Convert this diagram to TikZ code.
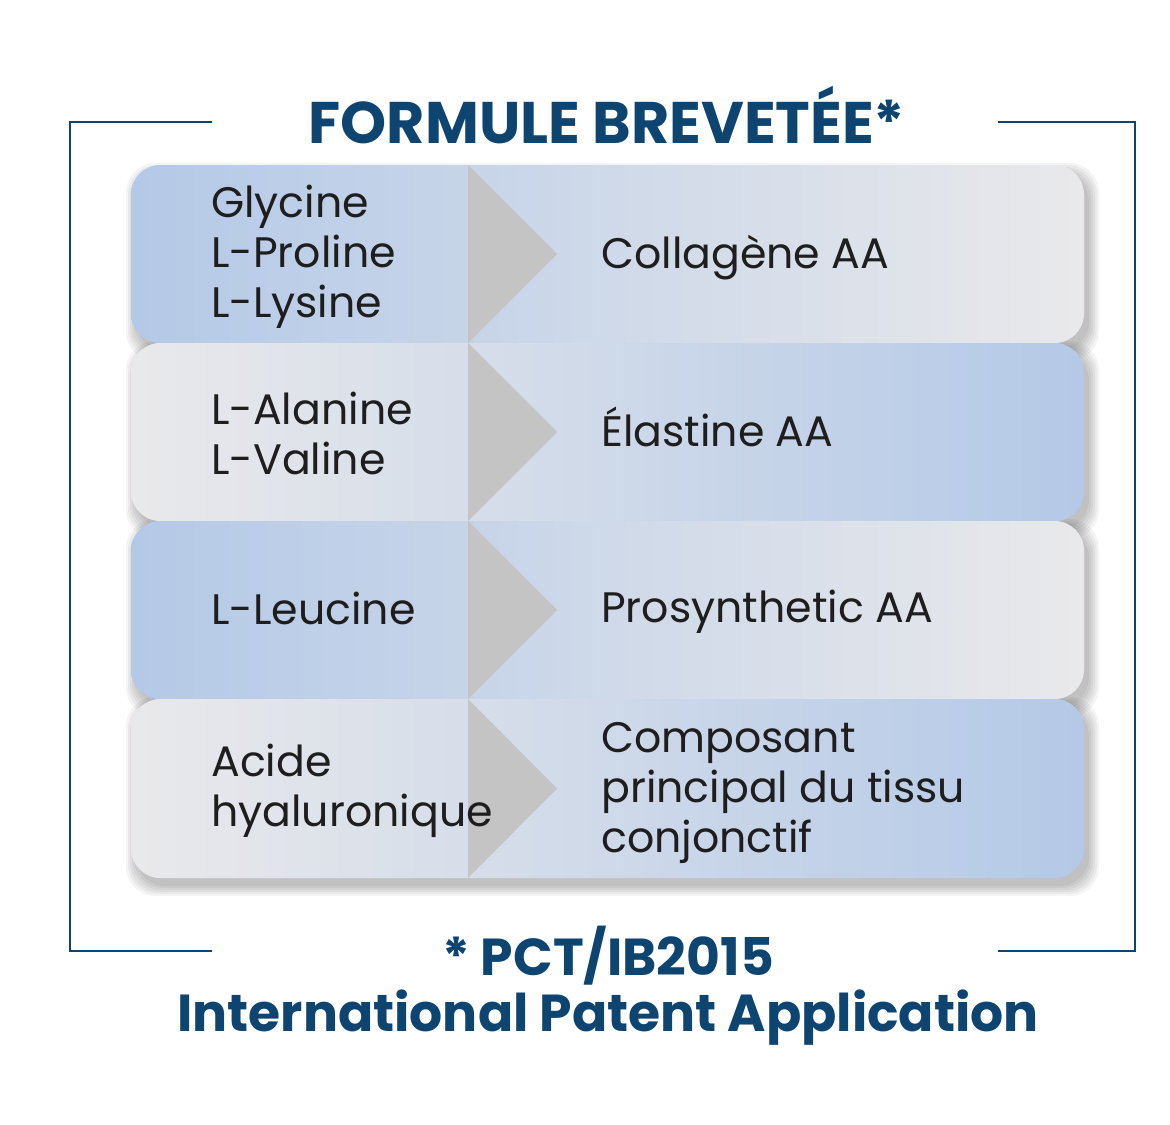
\documentclass[tikz,border=0pt]{standalone}
\usepackage{fontspec}
\setmainfont{Poppins}
\newfontfamily\titlefont{Poppins}
\definecolor{navy}{HTML}{0E4470}
\definecolor{cblue}{HTML}{B4C9E7}
\definecolor{cgray}{HTML}{E9E9EB}
\definecolor{tri}{HTML}{C4C4C4}
\definecolor{ink}{HTML}{1E1E1E}
\begin{document}
\begin{tikzpicture}[x=0.75pt,y=-0.75pt,
  bracket/.style={navy,line width=1.6pt},
  rowbox/.style={rounded corners=22pt},
  shadowbox/.style={rounded corners=22pt,fill=black,opacity=0.045},
  arrowtri/.style={fill=tri},
  celltext/.style={anchor=west,inner sep=0pt,align=left,text=ink,font=\fontsize{32}{37.5}\selectfont},
  titletext/.style={inner sep=0pt,text=navy,font=\titlefont\bfseries\fontsize{44}{48}\selectfont},
  foottext/.style={inner sep=0pt,text=navy,align=center,font=\titlefont\bfseries\fontsize{39}{43}\selectfont}]
\useasboundingbox (0,0) rectangle (1170,1124);
\fill[white] (0,0) rectangle (1170,1124);
% bracket frame
\coordinate (tl) at (70,122); \coordinate (tla) at (212,122);
\coordinate (tr) at (1135,122); \coordinate (tra) at (998,122);
\coordinate (bl) at (70,951); \coordinate (bla) at (212,951);
\coordinate (br) at (1135,951); \coordinate (bra) at (998,951);
\draw[bracket] (tla) -- (tl) -- (bl) -- (bla);
\draw[bracket] (tra) -- (tr) -- (br) -- (bra);
% shadows
\foreach \t/\b in {165/343,343/521,521/699,699/878}{
  \foreach \e in {0,2,4,6,8,10}{
    \fill[shadowbox] (131+5-\e,\t+8-\e) rectangle (1084+5+\e,\b+8+\e);
  }
}
% rows
\shade[rowbox,left color=cblue,right color=cgray] (131,165) rectangle (1084,343);
\shade[rowbox,left color=cgray,right color=cblue] (131,343) rectangle (1084,521);
\shade[rowbox,left color=cblue,right color=cgray] (131,521) rectangle (1084,699);
\shade[rowbox,left color=cgray,right color=cblue] (131,699) rectangle (1084,878);
% arrows
\foreach \t/\b in {165/343,343/521,521/699,699/878}{
  \fill[arrowtri] (468,\t) -- (557,{(\t+\b)/2}) -- (468,\b) -- cycle;
}
% texts
\node[titletext] (title) at (607,115) {FORMULE BREVETÉE*};
\node[celltext] (a1) at (211,257) {Glycine\\L-Proline\\L-Lysine};
\node[celltext] (b1) at (601,258) {Collagène AA};
\node[celltext] (a2) at (211,433) {L-Alanine\\L-Valine};
\node[celltext] (b2) at (601,427) {Élastine AA};
\node[celltext] (a3) at (211,608) {L-Leucine};
\node[celltext] (b3) at (601,612) {Prosynthetic AA};
\node[celltext] (a4) at (211,791) {Acide\\hyaluronique};
\node[celltext] (b4) at (601,793) {Composant\\principal du tissu\\conjonctif};
\node[foottext] (foot1) at (608,956) {* PCT/IB2015};
\node[foottext] (foot2) at (608,1018) {International Patent Application};
\end{tikzpicture}
\end{document}
